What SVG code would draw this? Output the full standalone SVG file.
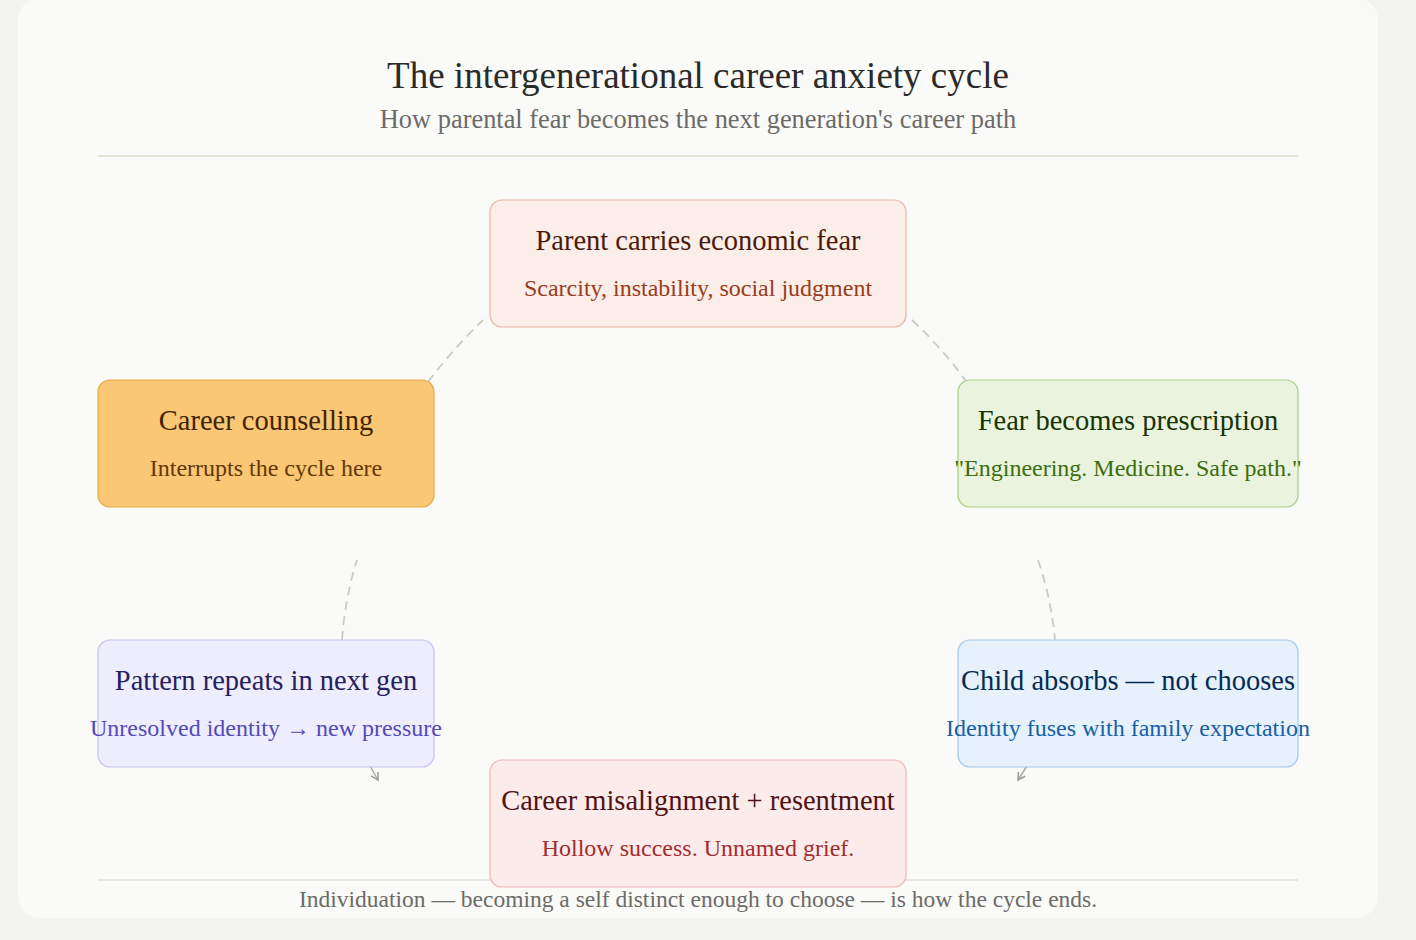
<svg xmlns="http://www.w3.org/2000/svg" width="1416" height="940" viewBox="0 0 1416 940">
<defs>
<style>
.t{font-family:"Liberation Serif","Times New Roman",serif;text-anchor:middle}
.nt{font-size:28.5px}
.ns{font-size:24px}
.box{stroke-width:1.2}
.con{fill:none;stroke:#cacac6;stroke-width:1.8;stroke-dasharray:9 6}
.arr{fill:none;stroke:#a8a8a4;stroke-width:1.5}
</style>
<marker id="ah" viewBox="0 0 10 10" refX="8" refY="5" markerWidth="10" markerHeight="10" markerUnits="userSpaceOnUse" orient="auto">
<path d="M1 1 L8 5 L1 9" fill="none" stroke="#9a9a96" stroke-width="1.5"/>
</marker>
</defs>
<rect x="0" y="0" width="1416" height="940" fill="#f3f3f1"/>
<rect x="18" y="-2" width="1360" height="920" rx="22" fill="#fafaf8"/>
<text class="t" x="698" y="88" font-size="37" fill="#2a2a28">The intergenerational career anxiety cycle</text>
<text class="t" x="698" y="128" font-size="26.4" fill="#6b6b68">How parental fear becomes the next generation's career path</text>
<line x1="98" y1="156" x2="1298" y2="156" stroke="#e4e4da" stroke-width="2"/>
<line x1="98" y1="880" x2="1298" y2="880" stroke="#e6e6e2" stroke-width="2"/>
<g id="connectors">
<path class="con" d="M912 320 Q942 348 966 381"/>
<path class="con" d="M1038 560 Q1051 598 1055 640"/>
<path class="arr" d="M1027 766 L1018 780" marker-end="url(#ah)"/>
<path class="arr" d="M370 766 L378 780" marker-end="url(#ah)"/>
<path class="con" d="M342 640 Q345 598 357 560"/>
<path class="con" d="M428 382 Q452 350 483 320"/>
</g>
<g id="node-parent">
<rect class="box" x="490" y="200" width="416" height="127" rx="12" fill="#fbede8" stroke="#eab6a4"/>
<text class="t nt" x="698" y="250" fill="#4a1b0c">Parent carries economic fear</text>
<text class="t ns" x="698" y="296" fill="#993c1d">Scarcity, instability, social judgment</text>
</g>
<g id="node-fear">
<rect class="box" x="958" y="380" width="340" height="127" rx="12" fill="#eaf3de" stroke="#a9cf85"/>
<text class="t nt" x="1128" y="430" fill="#173404">Fear becomes prescription</text>
<text class="t ns" x="1128" y="476" fill="#3b6d11">"Engineering. Medicine. Safe path."</text>
</g>
<g id="node-child">
<rect class="box" x="958" y="640" width="340" height="127" rx="12" fill="#e6f1fb" stroke="#a6c8ea"/>
<text class="t nt" x="1128" y="690" fill="#042c53">Child absorbs — not chooses</text>
<text class="t ns" x="1128" y="736" fill="#185fa5">Identity fuses with family expectation</text>
</g>
<g id="node-misalignment">
<rect class="box" x="490" y="760" width="416" height="127" rx="12" fill="#fcebeb" stroke="#efb6b6"/>
<text class="t nt" x="698" y="810" fill="#501313">Career misalignment + resentment</text>
<text class="t ns" x="698" y="856" fill="#a32d2d">Hollow success. Unnamed grief.</text>
</g>
<g id="node-pattern">
<rect class="box" x="98" y="640" width="336" height="127" rx="12" fill="#eeedfe" stroke="#c6c2ee"/>
<text class="t nt" x="266" y="690" fill="#26215c">Pattern repeats in next gen</text>
<text class="t ns" x="266" y="736" fill="#534ab7">Unresolved identity → new pressure</text>
</g>
<g id="node-counselling">
<rect class="box" x="98" y="380" width="336" height="127" rx="12" fill="#fac775" stroke="#e9a94a"/>
<text class="t nt" x="266" y="430" fill="#412402">Career counselling</text>
<text class="t ns" x="266" y="476" fill="#633806">Interrupts the cycle here</text>
</g>
<text class="t" x="698" y="907" font-size="23.5" fill="#6b6b68">Individuation — becoming a self distinct enough to choose — is how the cycle ends.</text>
</svg>
